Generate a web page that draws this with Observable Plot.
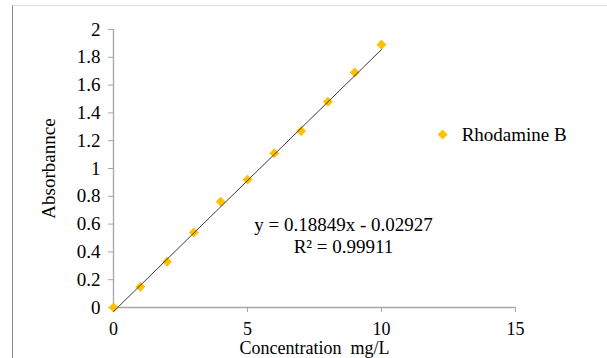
<!DOCTYPE html>
<html><head><meta charset="utf-8">
<script src="https://cdn.jsdelivr.net/npm/d3@7"></script>
<script src="https://cdn.jsdelivr.net/npm/@observablehq/plot@0.6"></script>
<style>
html,body{margin:0;padding:0;background:#fff;}
#wrap{position:relative;width:607px;height:358px;overflow:hidden;}
#wrap svg{display:block;}
#frame{position:absolute;left:12px;top:5px;width:600px;height:360px;border-top:1px solid #dcdcdc;border-left:1px solid #8c8c8c;pointer-events:none;}
</style></head><body><div id="wrap"><div id="frame"></div></div>
<script>
// data
const concentration = [0, 1, 2, 3, 4, 5, 6, 7, 8, 9, 10];
const absorbance = [0, 0.15, 0.33, 0.54, 0.76, 0.92, 1.11, 1.27, 1.48, 1.69, 1.89];
const xTicks = [0, 5, 10, 15];
const yTicks = [0, 0.2, 0.4, 0.6, 0.8, 1, 1.2, 1.4, 1.6, 1.8, 2];
const slope = 0.18849;
const intercept = -0.02927;
const trendRange = [0, 10];
const equationText = "y = 0.18849x - 0.02927";
const r2Text = "R\u00b2 = 0.99911";
const seriesName = "Rhodamine B";
const xLabel = "Concentration\u00a0 mg/L";
const yLabel = "Absorbannce";

// annotation anchors (data units)
const eqPos = {x: 8.58, y1: 0.595, y2: 0.437};
const legendPos = {xDot: 12.28, xText: 12.99, y: 1.245};

const points = concentration.map((c, i) => ({c, a: absorbance[i]}));
const trend = trendRange.map(x => ({x, y: slope * x + intercept}));

const gold = "#FFC000";
const axisGray = "#a6a6a6";

const chart = Plot.plot({
  width: 607, height: 358,
  marginLeft: 113, marginRight: 92, marginTop: 29, marginBottom: 51,
  style: {fontFamily: "'Liberation Serif', 'Times New Roman', serif", fontSize: "19px", color: "#000", background: "transparent", overflow: "visible"},
  x: {domain: [0, 15]},
  y: {domain: [0, 2]},
  marks: [
    Plot.ruleX([0], {stroke: axisGray, strokeWidth: 1.3}),
    Plot.ruleY([0], {stroke: axisGray, strokeWidth: 1.3}),
    Plot.axisX({ticks: xTicks, tickSize: 5, tickPadding: 10, fontSize: 18, label: null, stroke: axisGray, fill: "#000", tickFormat: d => String(d)}),
    Plot.axisY({ticks: yTicks, tickSize: 5, tickPadding: 8, label: null, stroke: axisGray, fill: "#000", tickFormat: d => String(d)}),
    Plot.dot(points, {x: "c", y: "a", symbol: "diamond2", r: 4.5, fill: gold, stroke: "none"}),
    Plot.line(trend, {x: "x", y: "y", stroke: "#3a3a3a", strokeWidth: 1}),
    Plot.text([equationText], {x: eqPos.x, y: eqPos.y1, text: d => d, textAnchor: "middle", lineAnchor: "middle", fill: "#000"}),
    Plot.text([r2Text], {x: eqPos.x, y: eqPos.y2, text: d => d, textAnchor: "middle", lineAnchor: "middle", fill: "#000"}),
    Plot.dot([seriesName], {x: legendPos.xDot, y: legendPos.y, symbol: "diamond2", r: 4.5, fill: gold, stroke: "none"}),
    Plot.text([seriesName], {x: legendPos.xText, y: legendPos.y, text: d => d, textAnchor: "start", lineAnchor: "middle", fill: "#000"}),
    Plot.text([xLabel], {frameAnchor: "bottom", text: d => d, dy: 41, fontSize: 18, textAnchor: "middle", lineAnchor: "middle", fill: "#000"}),
    Plot.text([yLabel], {frameAnchor: "left", text: d => d, dx: -65, rotate: -90, textAnchor: "middle", lineAnchor: "middle", fill: "#000"})
  ]
});
document.getElementById("wrap").insertBefore(chart, document.getElementById("frame"));
</script>
</body></html>
